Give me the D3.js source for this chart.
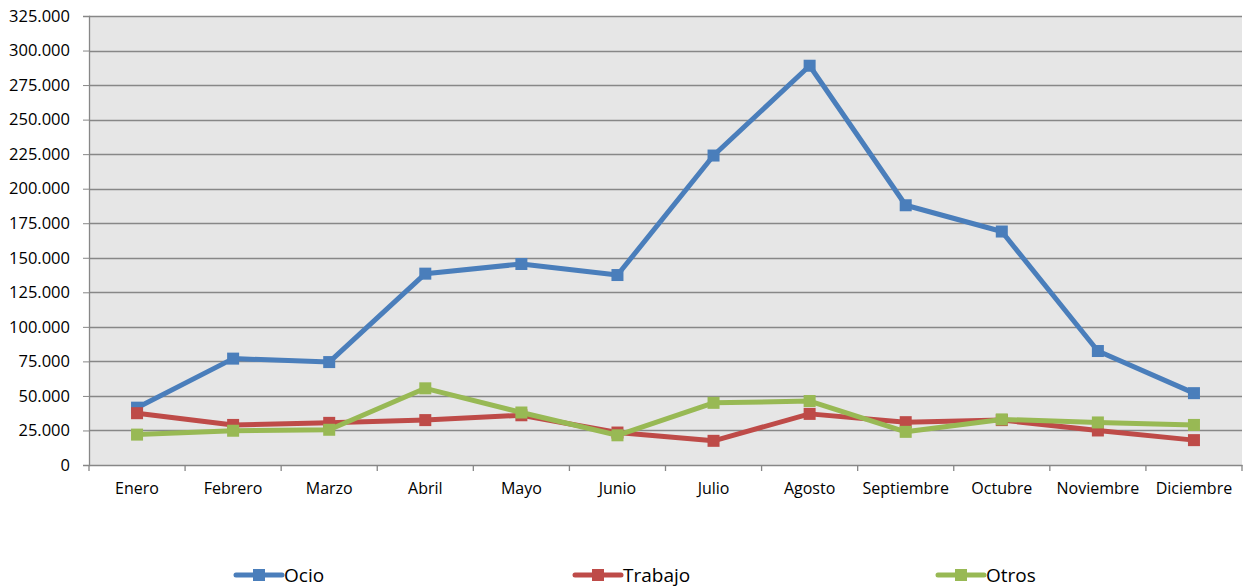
<!DOCTYPE html>
<html>
<head>
<meta charset="utf-8">
<script src="https://cdn.jsdelivr.net/npm/d3@7"></script>
<style>
  body { margin: 0; background: #fff; }
  text { font-family: "Open Sans", sans-serif; fill: #000; }
</style>
</head>
<body>
<div id="chart"></div>
<script>
let months = ["Enero","Febrero","Marzo","Abril","Mayo","Junio","Julio","Agosto","Septiembre","Octubre","Noviembre","Diciembre"];
let ocio    = [41500, 77000, 74500, 138500, 145500, 137500, 224000, 289000, 188000, 169000, 82500, 52000];
let trabajo = [37500, 29000, 30500, 32500, 36000, 23500, 17500, 37000, 31000, 32500, 25000, 18000];
let otros   = [22000, 24800, 25500, 55500, 38000, 21500, 45000, 46300, 24000, 33000, 30800, 29000];
let yTicks = d3.range(0, 325001, 25000);

let series = [
  {name: "Ocio", values: ocio, color: "#4a7ebb"},
  {name: "Trabajo", values: trabajo, color: "#be4b48"},
  {name: "Otros", values: otros, color: "#98b954"}
];

let width = 1243, height = 588;
let plotLeft = 89, plotRight = 1242, plotTop = 16, plotBottom = 465;

let svg = d3.select("#chart").append("svg")
  .attr("width", width).attr("height", height);

let scaleX = d3.scaleBand().domain(months).range([plotLeft, plotRight]);
let scaleY = d3.scaleLinear().domain([0, 325000]).range([plotBottom, plotTop]);

svg.append("rect")
  .attr("x", plotLeft).attr("y", plotTop)
  .attr("width", plotRight - plotLeft).attr("height", plotBottom - plotTop)
  .attr("fill", "#e6e6e6");

// gridlines
svg.append("g").selectAll("line").data(yTicks.filter(d => d > 0)).join("line")
  .attr("x1", plotLeft).attr("x2", plotRight)
  .attr("y1", d => Math.round(scaleY(d)) + 0.5).attr("y2", d => Math.round(scaleY(d)) + 0.5)
  .attr("stroke", "#878787").attr("stroke-width", 1.3);

let fmt = d => d === 0 ? "0" : d3.format(",")(d).replace(/,/g, ".");

let axisY = d3.axisLeft(scaleY).tickValues(yTicks).tickFormat(fmt).tickSize(6).tickPadding(13);
let gy = svg.append("g").attr("transform", `translate(${plotLeft},0)`).call(axisY);
gy.select(".domain").attr("stroke", "#878787").attr("stroke-width", 1.3);
gy.selectAll(".tick line").attr("stroke", "#878787");
gy.selectAll("text").style("font-size", "16.5px").attr("fill", "#000");

let axisX = d3.axisBottom(scaleX).tickSize(0).tickPadding(18);
let gx = svg.append("g").attr("transform", `translate(0,${plotBottom})`).call(axisX);
gx.select(".domain").attr("stroke", "#878787").attr("stroke-width", 1.3);
gx.selectAll("text").style("font-size", "16px").attr("fill", "#000");

// x tick marks between categories
svg.append("g").selectAll("line").data(d3.range(months.length + 1)).join("line")
  .attr("x1", i => plotLeft + i * scaleX.bandwidth()).attr("x2", i => plotLeft + i * scaleX.bandwidth())
  .attr("y1", plotBottom).attr("y2", plotBottom + 6)
  .attr("stroke", "#878787").attr("stroke-width", 1.3);

let line = d3.line()
  .x((d, i) => scaleX(months[i]) + scaleX.bandwidth() / 2)
  .y(d => scaleY(d));

let ms = 12;
series.forEach(s => {
  let g = svg.append("g");
  g.append("path").datum(s.values)
    .attr("d", line).attr("fill", "none")
    .attr("stroke", s.color).attr("stroke-width", 5)
    .attr("stroke-linejoin", "round");
  g.selectAll("rect").data(s.values).join("rect")
    .attr("x", (d, i) => scaleX(months[i]) + scaleX.bandwidth() / 2 - ms / 2)
    .attr("y", d => scaleY(d) - ms / 2)
    .attr("width", ms).attr("height", ms)
    .attr("fill", s.color);
});

// legend
let legendX = [236, 575, 938];
let legend = svg.append("g").selectAll("g").data(series).join("g")
  .attr("transform", (d, i) => `translate(${legendX[i]},575)`);
legend.append("line").attr("x1", 0).attr("x2", 46).attr("y1", 0).attr("y2", 0)
  .attr("stroke", d => d.color).attr("stroke-width", 5).attr("stroke-linecap", "round");
legend.append("rect").attr("x", 23 - 6).attr("y", -6).attr("width", 12).attr("height", 12)
  .attr("fill", d => d.color);
legend.append("text").attr("x", 48).attr("y", 7).style("font-size", "19px").text(d => d.name);
</script>
</body>
</html>
